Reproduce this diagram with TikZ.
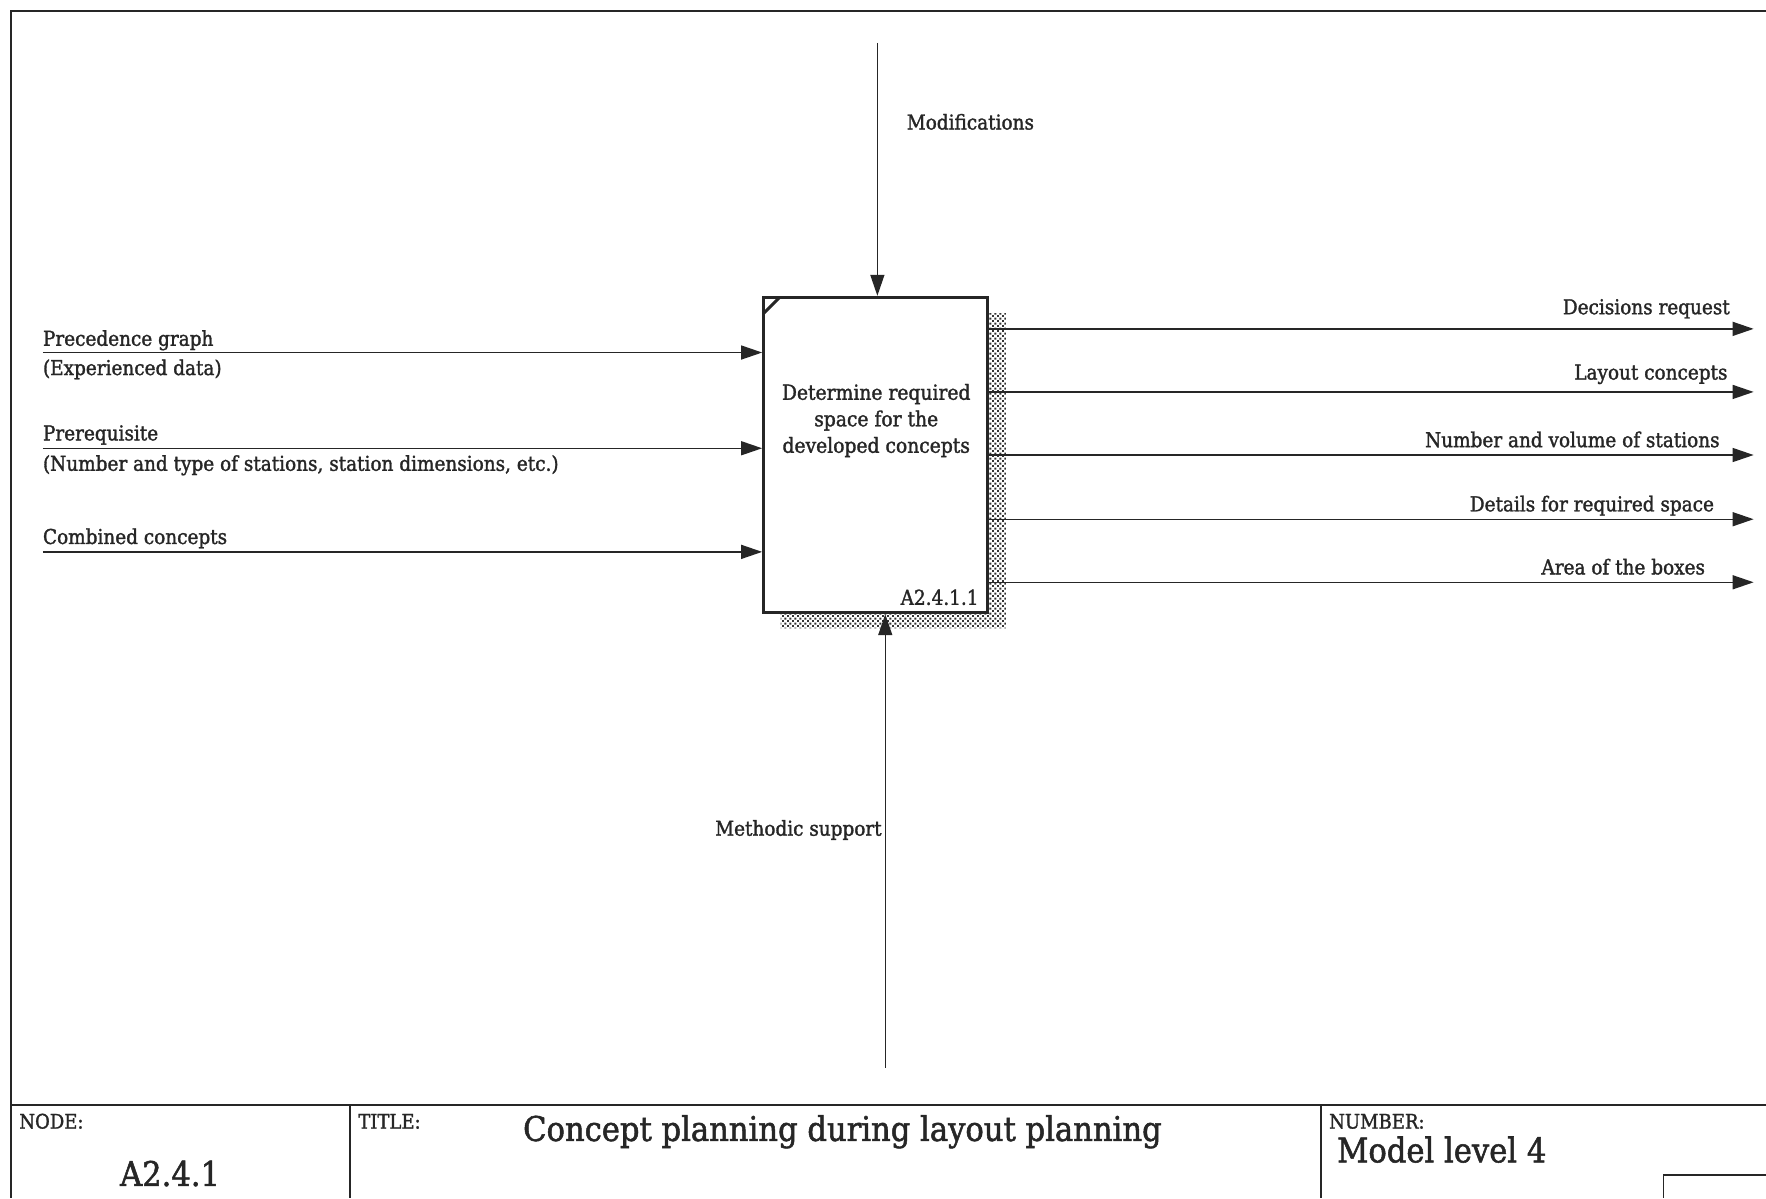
\documentclass[tikz,border=0pt]{standalone}
\usepackage{fontspec}
\setmainfont[FakeStretch=0.9,FakeBold=1.5]{DejaVu Serif}
\usetikzlibrary{arrows.meta,patterns}
\definecolor{ink}{HTML}{262626}
% dotted fill used for the box shadow
\pgfdeclarepatternformonly{shadowdots}{\pgfqpoint{0pt}{0pt}}{\pgfqpoint{5.4pt}{5.4pt}}{\pgfqpoint{5.4pt}{5.4pt}}{%
  \pgfpathrectangle{\pgfqpoint{0pt}{0pt}}{\pgfqpoint{2.2pt}{2.2pt}}%
  \pgfpathrectangle{\pgfqpoint{2.7pt}{2.7pt}}{\pgfqpoint{2.2pt}{2.2pt}}%
  \pgfusepath{fill}}
\tikzset{
  lbl/.style={inner sep=0pt, text=ink, font=\fontsize{20.5}{24}\selectfont},
  small/.style={inner sep=0pt, text=ink, font=\fontsize{20}{24}\selectfont},
  big/.style={inner sep=0pt, text=ink, font=\fontsize{34}{40}\selectfont},
  flow/.style={draw=ink, line width=1.4pt, -{Triangle[length=21pt,width=14pt]}},
  frame/.style={draw=ink, line width=1.8pt},
  procbox/.style={draw=ink, line width=3pt, fill=white, inner sep=0pt, outer sep=0pt,
    minimum width=224.1pt, minimum height=315.4pt}
}
\begin{document}
\begin{tikzpicture}[x=1.1263pt, y=-1.1263pt]
\useasboundingbox[fill=white] (0,0) rectangle (1568,1064);

% sheet frame and title block
\draw[frame] (1568,10) -- (10,10) -- (10,1064);
\draw[frame] (10,981) -- (1568,981);
\draw[frame] (311,981) -- (311,1064);
\draw[frame] (1173,981) -- (1173,1064);
\draw[frame] (1568,1043) -- (1477,1043) -- (1477,1064);

\node[small, anchor=base west] (nodelbl) at (17,1002) {NODE:};
\node[small, anchor=base west] (titlelbl) at (318,1002) {TITLE:};
\node[small, anchor=base west] (numlbl) at (1180,1002) {NUMBER:};
\node[big, anchor=base] (nodeval) at (151,1053) {A2.4.1};
\node[big, anchor=base] (titleval) at (748,1013) {Concept planning during layout planning};
\node[big, anchor=base west] (numval) at (1187,1032) {Model level 4};

% shadow of the activity box
\fill[pattern=shadowdots, pattern color=black!80]
  (877,278) -- (893,278) -- (893,558) -- (693,558) -- (693,544) -- (877,544) -- cycle;

% activity box
\node[procbox] (proc) at (777.5,404) {};
\draw[draw=ink, line width=3pt] ([yshift=-16pt]proc.north west) -- ([xshift=16pt]proc.north west);
\node[lbl, align=center, font=\fontsize{20.8}{26.5}\selectfont, anchor=base] (ptext) at (778,402)
  {Determine required\\space for the\\developed concepts};
\node[lbl, anchor=base east] (pid) at (869,537) {A2.4.1.1};

% control and mechanism
\coordinate (ctop) at (779,38);
\draw[flow] (ctop) -- ([yshift=1.5pt]ctop |- proc.north);
\node[lbl, anchor=base west] (modif) at (805,115) {Modifications};
\coordinate (mbot) at (786,948);
\draw[flow] (mbot) -- ([yshift=-1.5pt]mbot |- proc.south);
\node[lbl, anchor=base east] (method) at (783,742) {Methodic support};

% inputs
\coordinate (in1) at (38,313);
\coordinate (in2) at (38,398);
\coordinate (in3) at (38,490);
\draw[flow] (in1) -- ([xshift=-1.5pt]in1 -| proc.west);
\draw[flow] (in2) -- ([xshift=-1.5pt]in2 -| proc.west);
\draw[flow] (in3) -- ([xshift=-1.5pt]in3 -| proc.west);
\node[lbl, anchor=base west] (in1a) at (38,307) {Precedence graph};
\node[lbl, anchor=base west] (in1b) at (38,333) {(Experienced data)};
\node[lbl, anchor=base west] (in2a) at (38,391) {Prerequisite};
\node[lbl, anchor=base west] (in2b) at (38,418) {(Number and type of stations, station dimensions, etc.)};
\node[lbl, anchor=base west] (in3a) at (38,483) {Combined concepts};

% outputs
\coordinate (out1) at (1557,292);
\coordinate (out2) at (1557,348);
\coordinate (out3) at (1557,404);
\coordinate (out4) at (1557,461);
\coordinate (out5) at (1557,517);
\draw[flow] (out1 -| proc.east) -- (out1);
\draw[flow] (out2 -| proc.east) -- (out2);
\draw[flow] (out3 -| proc.east) -- (out3);
\draw[flow] (out4 -| proc.east) -- (out4);
\draw[flow] (out5 -| proc.east) -- (out5);
\node[lbl, anchor=base east] (out1l) at (1536,279) {Decisions request};
\node[lbl, anchor=base east] (out2l) at (1534,337) {Layout concepts};
\node[lbl, anchor=base east] (out3l) at (1527,397) {Number and volume of stations};
\node[lbl, anchor=base east] (out4l) at (1522,454) {Details for required space};
\node[lbl, anchor=base east] (out5l) at (1514,510) {Area of the boxes};
\end{tikzpicture}
\end{document}
